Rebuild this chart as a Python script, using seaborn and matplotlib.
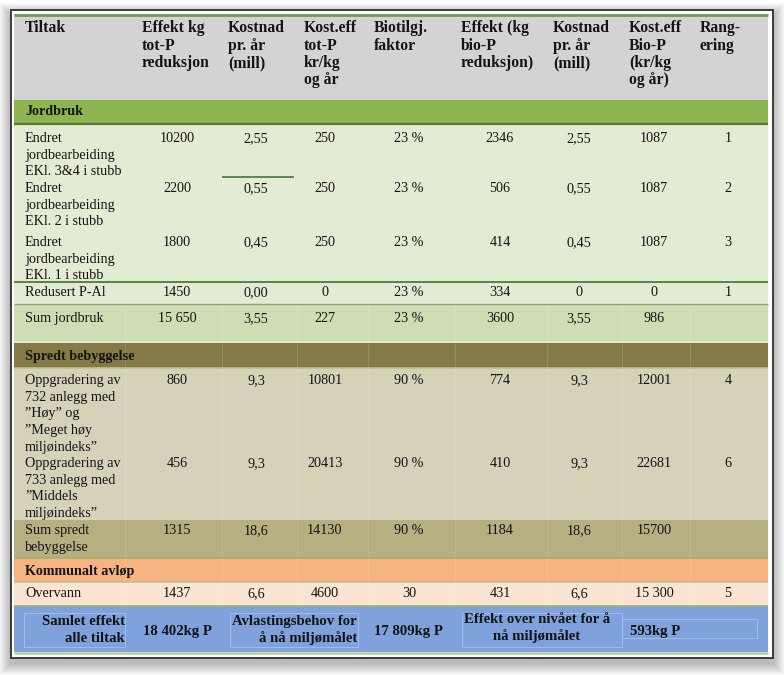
import matplotlib
matplotlib.use("Agg")
import matplotlib.pyplot as plt
from matplotlib.patches import Rectangle
import seaborn as sns

sns.set_theme(style="white")
plt.rcParams['font.family'] = ['Liberation Serif', 'DejaVu Serif']

# ---------------- data ----------------
headers = ["Tiltak", "Effekt kg\ntot-P\nreduksjon", "Kostnad\npr. år\n(mill)",
           "Kost.eff\ntot-P\nkr/kg\nog år", "Biotilgj.\nfaktor",
           "Effekt (kg\nbio-P\nreduksjon)", "Kostnad\npr. år\n(mill)",
           "Kost.eff\nBio-P\n(kr/kg\nog år)", "Rang-\nering"]

sections = ["Jordbruk", "Spredt bebyggelse", "Kommunalt avløp"]

tiltak = ["Endret\njordbearbeiding\nEKl. 3&4 i stubb",
          "Endret\njordbearbeiding\nEKl. 2 i stubb",
          "Endret\njordbearbeiding\nEKl. 1 i stubb",
          "Redusert P-Al",
          "Sum jordbruk",
          "Oppgradering av\n732 anlegg med\n”Høy” og\n”Meget høy\nmiljøindeks”",
          "Oppgradering av\n733 anlegg med\n”Middels\nmiljøindeks”",
          "Sum spredt\nbebyggelse",
          "Overvann"]
effekt_totp = ["10200", "2200", "1800", "1450", "15 650", "860", "456", "1315", "1437"]
kostnad_tot = ["2,55", "0,55", "0,45", "0,00", "3,55", "9,3", "9,3", "18,6", "6,6"]
kosteff_totp = ["250", "250", "250", "0", "227", "10801", "20413", "14130", "4600"]
biotilgj = ["23 %", "23 %", "23 %", "23 %", "23 %", "90 %", "90 %", "90 %", "30"]
effekt_biop = ["2346", "506", "414", "334", "3600", "774", "410", "1184", "431"]
kostnad_bio = ["2,55", "0,55", "0,45", "0", "3,55", "9,3", "9,3", "18,6", "6,6"]
kosteff_biop = ["1087", "1087", "1087", "0", "986", "12001", "22681", "15700", "15 300"]
rangering = ["1", "2", "3", "1", "", "4", "6", "", "5"]

summary = ["Samlet effekt\nalle tiltak", "18 402kg P",
           "Avlastingsbehov for\nå nå miljømålet", "17 809kg P",
           "Effekt over nivået for å\nnå miljømålet", "593kg P"]

# ---------------- layout ----------------
W, H = 784, 675
TL, TR = 14, 768
band_edges = [14, 100, 124, 177, 230, 282, 304, 343, 368, 455, 520, 558, 582, 606, 652]
band_colors = ["#d3d3d3", "#8db44f", "#e4ebd3", "#e4ebd3", "#e4ebd3", "#e4ebd3",
               "#cfddb4", "#857a45", "#d6d2ba", "#d6d2ba", "#b6af82",
               "#f7b282", "#fce4d4", "#7fa2dc"]

header_x = [25, 142, 228, 304, 374, 461, 553, 629, 700]
num_cx = [177, 256, 325, 409, 500, 579, 654, 728]
row_base = [142, 192, 246, 296, 322, 384, 467, 534, 597]
section_base = [115, 360, 575]
TXT = "#141414"

fig = plt.figure(figsize=(W / 100, H / 100), dpi=100)
ax = fig.add_axes([0, 0, 1, 1])
ax.set_xlim(0, W)
ax.set_ylim(H, 0)
ax.axis("off")

# window shadow and frame
for k in range(12, 0, -1):
    ax.add_patch(Rectangle((11 - k, 10 - k + 5), 762 + 2 * k, 648 + 2 * k,
                           facecolor="black", alpha=0.022, lw=0))
ax.add_patch(Rectangle((11, 10), 762, 648, facecolor="white",
                       edgecolor="#2e2e2e", lw=1.3))

# row fills
tops = band_edges[:-1]
heights = [b - a for a, b in zip(band_edges[:-1], band_edges[1:])]
centers = [a + h / 2 for a, h in zip(tops, heights)]
ax.barh(centers, [TR - TL] * len(tops), height=heights, left=TL,
        color=band_colors, align="center", linewidth=0)

# faint column separators inside body rows
for x in [125, 222, 297, 368, 455, 547, 622, 690]:
    ax.vlines(x, 126, 604, colors="white", alpha=0.15, lw=0.8)

# horizontal rules
ax.hlines(14.8, TL, TR, colors="#6f9a55", lw=2.0)
ax.hlines(123.8, TL, TR, colors="#4e7a33", lw=1.6)
ax.hlines(282, TL, TR, colors="#4e7a33", lw=1.3)
ax.hlines(304, TL, TR, colors="#8fa17a", lw=1.0)
ax.hlines(341.5, TL, TR, colors="#e6eed8", lw=1.2)
ax.hlines(368, TL, TR, colors="#b9c394", lw=1.2)
ax.hlines(558, TL, TR, colors="#a9b36e", lw=1.4)
ax.hlines(582, TL, TR, colors="#b9c38a", lw=1.2)
ax.hlines(606, TL, TR, colors="#9fb77a", lw=1.4)
ax.hlines(652.5, TL, TR, colors="#b7cf96", lw=1.8)
ax.hlines(177, 222, 294, colors="#3f7a36", lw=1.2)

# summary boxes
for (x0, y0, w, h) in [(24, 613, 101, 34), (230, 613, 128, 34),
                       (462, 613, 160, 34), (622, 619, 135, 19)]:
    ax.add_patch(Rectangle((x0, y0), w, h, facecolor="none",
                           edgecolor="#a9c3ec", lw=0.7, alpha=0.8))


def put(x, y0, s, ha="left", size=10.2, weight="normal", step=16.7):
    for i, line in enumerate(s.split("\n")):
        ax.text(x, y0 + i * step, line, ha=ha, va="baseline", fontsize=size,
                fontweight=weight, color=TXT)


# header
for x, s in zip(header_x, headers):
    put(x, 32, s, size=11.3, weight="bold", step=17.5)

# sections
for y, s in zip(section_base, sections):
    put(25, y, s, size=10.2, weight="bold")

# body
cols = [effekt_totp, kostnad_tot, kosteff_totp, biotilgj,
        effekt_biop, kostnad_bio, kosteff_biop, rangering]
for i, y in enumerate(row_base):
    put(25, y, tiltak[i])
    for cx, col in zip(num_cx, cols):
        if col[i]:
            put(cx, y, col[i], ha="center")

# summary row
put(125, 625, summary[0], ha="right", size=10.65, weight="bold", step=17)
put(177, 635, summary[1], ha="center", size=10.65, weight="bold")
put(357, 625, summary[2], ha="right", size=10.65, weight="bold", step=17)
put(408, 635, summary[3], ha="center", size=10.65, weight="bold")
put(537, 623, summary[4], ha="center", size=10.65, weight="bold", step=17)
put(630, 635, summary[5], ha="left", size=10.65, weight="bold")

fig.savefig("out.png", dpi=100)
